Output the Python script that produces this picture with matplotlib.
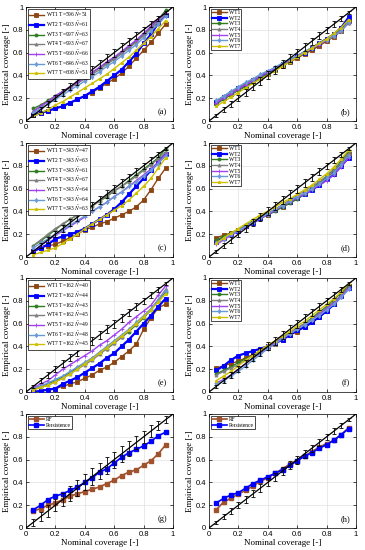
import matplotlib
matplotlib.use("Agg")
import matplotlib.pyplot as plt

plt.rcParams['font.family'] = ['Liberation Serif', 'DejaVu Serif']
plt.rcParams['mathtext.fontset'] = 'stix'

x = [0.05, 0.10, 0.15, 0.20, 0.25, 0.30, 0.35, 0.40, 0.45, 0.50,
     0.55, 0.60, 0.65, 0.70, 0.75, 0.80, 0.85, 0.90, 0.95]

turbines = ['WT1', 'WT2', 'WT3', 'WT4', 'WT5', 'WT6', 'WT7']

# panel (a)
a_T = [596, 903, 997, 993, 960, 846, 608]
a_N = [51, 61, 63, 67, 66, 63, 51]
a_vals = [
    [0.05,0.07,0.09,0.11,0.13,0.16,0.19,0.22,0.25,0.29,0.33,0.37,0.42,0.48,0.55,0.62,0.69,0.77,0.85],
    [0.05,0.07,0.09,0.11,0.13,0.16,0.19,0.22,0.26,0.30,0.35,0.40,0.45,0.52,0.59,0.68,0.76,0.86,0.93],
    [0.11,0.14,0.18,0.22,0.26,0.30,0.34,0.38,0.42,0.47,0.51,0.55,0.60,0.65,0.70,0.76,0.82,0.89,0.97],
    [0.09,0.13,0.17,0.21,0.25,0.29,0.33,0.37,0.41,0.45,0.50,0.54,0.59,0.64,0.69,0.75,0.81,0.87,0.94],
    [0.08,0.13,0.17,0.22,0.26,0.30,0.34,0.38,0.43,0.47,0.52,0.56,0.61,0.66,0.71,0.77,0.83,0.89,0.95],
    [0.07,0.11,0.15,0.19,0.23,0.27,0.31,0.35,0.39,0.43,0.48,0.52,0.57,0.62,0.67,0.73,0.79,0.85,0.92],
    [0.04,0.07,0.10,0.14,0.17,0.21,0.25,0.29,0.33,0.37,0.41,0.46,0.51,0.56,0.62,0.68,0.74,0.81,0.88],
]
# panel (b)
b_vals = [
    [0.16,0.20,0.24,0.28,0.31,0.35,0.38,0.41,0.45,0.48,0.52,0.55,0.59,0.62,0.66,0.70,0.74,0.79,0.88],
    [0.17,0.21,0.25,0.29,0.32,0.36,0.39,0.43,0.46,0.50,0.53,0.57,0.60,0.64,0.68,0.72,0.76,0.82,0.91],
    [0.15,0.19,0.23,0.27,0.30,0.34,0.38,0.41,0.45,0.49,0.52,0.56,0.60,0.64,0.68,0.72,0.76,0.81,0.88],
    [0.17,0.21,0.25,0.29,0.33,0.36,0.40,0.43,0.47,0.50,0.54,0.57,0.61,0.64,0.68,0.71,0.75,0.80,0.86],
    [0.16,0.20,0.24,0.28,0.32,0.35,0.39,0.43,0.46,0.50,0.53,0.57,0.60,0.64,0.67,0.71,0.75,0.79,0.86],
    [0.18,0.22,0.26,0.30,0.34,0.37,0.41,0.44,0.47,0.51,0.54,0.57,0.61,0.64,0.68,0.71,0.75,0.79,0.87],
    [0.13,0.17,0.21,0.25,0.29,0.33,0.37,0.40,0.44,0.48,0.52,0.56,0.60,0.64,0.68,0.72,0.77,0.82,0.89],
]
# panel (c)
c_T = [343, 343, 343, 343, 343, 343, 343]
c_N = [47, 63, 61, 67, 64, 64, 63]
c_vals = [
    [0.05,0.08,0.10,0.11,0.14,0.17,0.20,0.24,0.26,0.29,0.31,0.34,0.37,0.40,0.44,0.50,0.59,0.69,0.78],
    [0.05,0.08,0.11,0.16,0.18,0.20,0.22,0.25,0.29,0.33,0.37,0.42,0.48,0.55,0.62,0.69,0.76,0.83,0.90],
    [0.10,0.14,0.19,0.24,0.29,0.33,0.37,0.41,0.45,0.49,0.53,0.58,0.62,0.67,0.72,0.77,0.82,0.87,0.95],
    [0.10,0.15,0.20,0.25,0.29,0.33,0.37,0.41,0.45,0.49,0.54,0.58,0.62,0.66,0.71,0.76,0.81,0.86,0.92],
    [0.05,0.10,0.15,0.19,0.23,0.27,0.31,0.35,0.40,0.44,0.48,0.53,0.57,0.62,0.67,0.72,0.77,0.83,0.90],
    [0.08,0.12,0.16,0.20,0.24,0.28,0.32,0.36,0.40,0.44,0.48,0.53,0.57,0.62,0.66,0.71,0.76,0.82,0.89],
    [0.02,0.04,0.06,0.08,0.12,0.16,0.20,0.25,0.29,0.33,0.37,0.41,0.45,0.50,0.56,0.62,0.69,0.78,0.87],
]
# panel (d)
d_vals = [
    [0.17,0.19,0.21,0.24,0.27,0.31,0.34,0.37,0.41,0.44,0.48,0.52,0.56,0.60,0.65,0.70,0.75,0.82,0.90],
    [0.13,0.17,0.20,0.23,0.27,0.30,0.34,0.38,0.41,0.45,0.48,0.52,0.55,0.59,0.63,0.68,0.73,0.80,0.87],
    [0.15,0.18,0.21,0.24,0.28,0.31,0.35,0.37,0.40,0.44,0.47,0.51,0.55,0.60,0.65,0.71,0.77,0.84,0.93],
    [0.13,0.16,0.20,0.24,0.27,0.31,0.35,0.38,0.42,0.46,0.50,0.54,0.58,0.62,0.66,0.71,0.76,0.83,0.91],
    [0.11,0.15,0.19,0.23,0.26,0.30,0.34,0.37,0.41,0.45,0.48,0.52,0.55,0.59,0.63,0.67,0.72,0.79,0.87],
    [0.12,0.16,0.20,0.23,0.27,0.31,0.34,0.38,0.42,0.45,0.49,0.53,0.56,0.60,0.64,0.69,0.74,0.81,0.89],
    [0.12,0.17,0.21,0.25,0.29,0.33,0.37,0.40,0.44,0.48,0.51,0.55,0.59,0.63,0.68,0.73,0.79,0.86,0.94],
]
# panel (e)
e_T = [162, 162, 162, 162, 162, 162, 162]
e_N = [40, 44, 43, 45, 49, 48, 45]
e_vals = [
    [0.00,0.01,0.02,0.03,0.05,0.07,0.09,0.12,0.15,0.19,0.22,0.26,0.31,0.36,0.42,0.55,0.65,0.74,0.77],
    [0.00,0.01,0.02,0.03,0.07,0.10,0.13,0.17,0.21,0.25,0.30,0.34,0.40,0.46,0.53,0.60,0.67,0.75,0.82],
    [0.03,0.05,0.07,0.10,0.13,0.17,0.21,0.25,0.29,0.34,0.38,0.43,0.48,0.53,0.59,0.65,0.72,0.80,0.88],
    [0.02,0.04,0.06,0.09,0.12,0.16,0.20,0.24,0.28,0.33,0.38,0.43,0.48,0.54,0.60,0.66,0.73,0.81,0.90],
    [0.04,0.07,0.10,0.15,0.20,0.24,0.28,0.32,0.36,0.41,0.45,0.50,0.55,0.61,0.66,0.71,0.76,0.85,0.93],
    [0.03,0.05,0.08,0.11,0.14,0.18,0.22,0.26,0.30,0.35,0.40,0.45,0.50,0.55,0.61,0.67,0.73,0.81,0.89],
    [0.02,0.04,0.06,0.09,0.12,0.16,0.20,0.25,0.29,0.34,0.39,0.44,0.49,0.54,0.60,0.66,0.72,0.79,0.86],
]
# panel (f)
f_vals = [
    [0.21,0.23,0.25,0.27,0.30,0.33,0.36,0.39,0.42,0.46,0.50,0.53,0.57,0.61,0.66,0.71,0.77,0.85,0.93],
    [0.19,0.23,0.28,0.32,0.34,0.36,0.38,0.40,0.43,0.46,0.50,0.54,0.57,0.61,0.66,0.71,0.77,0.84,0.91],
    [0.16,0.19,0.22,0.26,0.29,0.32,0.36,0.40,0.44,0.48,0.52,0.56,0.60,0.65,0.70,0.75,0.81,0.87,0.94],
    [0.15,0.18,0.21,0.24,0.28,0.32,0.36,0.40,0.44,0.48,0.52,0.56,0.60,0.64,0.69,0.74,0.79,0.85,0.92],
    [0.08,0.11,0.15,0.20,0.25,0.30,0.34,0.38,0.43,0.47,0.51,0.55,0.59,0.63,0.68,0.73,0.78,0.84,0.91],
    [0.07,0.10,0.14,0.18,0.23,0.28,0.33,0.38,0.42,0.47,0.51,0.55,0.59,0.63,0.67,0.72,0.77,0.83,0.90],
    [0.10,0.14,0.18,0.23,0.28,0.32,0.37,0.41,0.45,0.49,0.53,0.58,0.62,0.67,0.72,0.77,0.82,0.88,0.95],
]
# panels (g), (h)
models = ['RF', 'Persistence']
g_vals = [
    [0.15,0.17,0.20,0.22,0.25,0.28,0.30,0.32,0.34,0.36,0.39,0.42,0.46,0.49,0.51,0.55,0.59,0.65,0.73],
    [0.16,0.20,0.25,0.28,0.30,0.33,0.36,0.40,0.44,0.49,0.52,0.57,0.62,0.66,0.69,0.72,0.76,0.81,0.84],
]
h_vals = [
    [0.16,0.23,0.26,0.30,0.33,0.37,0.41,0.44,0.48,0.52,0.56,0.59,0.63,0.67,0.71,0.74,0.77,0.82,0.88],
    [0.22,0.26,0.29,0.31,0.35,0.39,0.42,0.45,0.48,0.51,0.55,0.59,0.63,0.66,0.70,0.73,0.77,0.82,0.87],
]

# reference error-bar half widths
err_wt = [0.015,0.02,0.025,0.028,0.03,0.032,0.034,0.035,0.036,0.036,
          0.036,0.035,0.034,0.032,0.03,0.028,0.025,0.02,0.015]
err_g = [0.03,0.04,0.05,0.055,0.06,0.065,0.068,0.07,0.072,0.072,
         0.072,0.07,0.068,0.065,0.06,0.055,0.05,0.04,0.03]
err_h = [0.015,0.02,0.025,0.028,0.03,0.032,0.034,0.035,0.036,0.036,
         0.036,0.035,0.034,0.032,0.03,0.028,0.025,0.02,0.015]

wt_colors = ['#8B4513', '#0000FF', '#2E7D1E', '#808080', '#A040F0', '#6A9AD6', '#CCC000']
wt_markers = ['s', 's', 'o', '^', '+', 'd', '*']
wt_lw = [1.0, 1.6, 1.0, 1.0, 1.0, 1.0, 1.0]
mod_colors = ['#A0522D', '#0000FF']
mod_markers = ['s', 's']

fig = plt.figure(figsize=(3.65, 5.5), dpi=100)
W = 147 / 365
H = 114 / 550
lefts = [26 / 365, 209 / 365]
bottoms = [1 - 121 / 550, 1 - 257 / 550, 1 - 392 / 550, 1 - 528 / 550]

LEG = dict(loc='upper left', fontsize=4.0, frameon=True, fancybox=False,
           edgecolor='black', framealpha=1, borderpad=0.25, labelspacing=0.12,
           handlelength=2.6, handletextpad=0.4, borderaxespad=0.3)


def setup(ax, letter):
    ax.set_xlim(0, 1)
    ax.set_ylim(0, 1)
    ticks = [0, 0.2, 0.4, 0.6, 0.8, 1]
    labs = ['0', '0.2', '0.4', '0.6', '0.8', '1']
    ax.set_xticks(ticks)
    ax.set_yticks(ticks)
    ax.set_xticklabels(labs, family=['Liberation Sans', 'DejaVu Sans'], fontsize=5.5)
    ax.set_yticklabels(labs, family=['Liberation Sans', 'DejaVu Sans'], fontsize=5.5)
    ax.tick_params(direction='in', length=2, width=0.5, pad=2, top=True, right=True)
    ax.grid(True, color='#e0e0e0', linewidth=0.5)
    ax.set_axisbelow(True)
    for s in ax.spines.values():
        s.set_linewidth(0.5)
    ax.set_xlabel('Nominal coverage [-]', fontsize=6.5, labelpad=1)
    ax.set_ylabel('Empirical coverage [-]', fontsize=6.5, labelpad=1)
    ax.text(0.96, 0.04, '(' + letter + ')', transform=ax.transAxes,
            ha='right', va='bottom', fontsize=6)


def reference(ax, err):
    ax.plot([0, 1], [0, 1], color='black', linewidth=0.9, zorder=5)
    ax.errorbar(x, x, yerr=err, fmt='none', ecolor='black', elinewidth=0.6,
                capsize=1.3, capthick=0.6, zorder=5)


def wt_panel(ax, vals, labels, letter):
    reference(ax, err_wt)
    for i, v in enumerate(vals):
        ax.plot(x, v, color=wt_colors[i], marker=wt_markers[i], markersize=2.2,
                linewidth=wt_lw[i], markeredgewidth=0.6, label=labels[i], zorder=3)
    leg = ax.legend(**LEG)
    leg.get_frame().set_linewidth(0.5)
    setup(ax, letter)


def wt_labels(T, N):
    return [f'{turbines[i]} T={T[i]} $\\bar{{N}}$={N[i]}' for i in range(len(turbines))]


axes = {}
letters = [['a', 'b'], ['c', 'd'], ['e', 'f'], ['g', 'h']]
for r in range(4):
    for c in range(2):
        axes[letters[r][c]] = fig.add_axes([lefts[c], bottoms[r], W, H])

wt_panel(axes['a'], a_vals, wt_labels(a_T, a_N), 'a')
wt_panel(axes['b'], b_vals, turbines, 'b')
wt_panel(axes['c'], c_vals, wt_labels(c_T, c_N), 'c')
wt_panel(axes['d'], d_vals, turbines, 'd')
wt_panel(axes['e'], e_vals, wt_labels(e_T, e_N), 'e')
wt_panel(axes['f'], f_vals, turbines, 'f')

for key, vals, err in [('g', g_vals, err_g), ('h', h_vals, err_h)]:
    ax = axes[key]
    reference(ax, err)
    for i, v in enumerate(vals):
        ax.plot(x, v, color=mod_colors[i], marker=mod_markers[i], markersize=2.2,
                linewidth=1.2, label=models[i], zorder=3)
    leg = ax.legend(**LEG)
    leg.get_frame().set_linewidth(0.5)
    setup(ax, key)

fig.savefig('out.png', dpi=100)
